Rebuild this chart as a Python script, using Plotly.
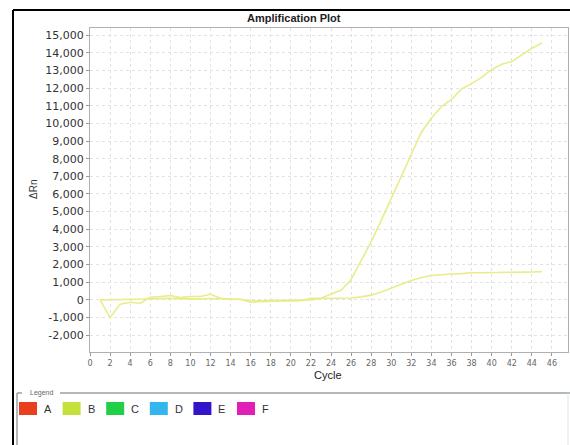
import plotly.graph_objects as go

cycles = list(range(1, 46))
curve_high = [0, -1000, -250, -130, -190, 150, 190, 245, 130, 190,
              190, 320, 95, 40, 40, -130, -95, -55, -55, -60,
              -40, 95, 95, 340, 550, 1150, 2200, 3300, 4500, 5800,
              7000, 8250, 9500, 10300, 10950, 11350, 11950, 12250, 12600, 13050,
              13350, 13500, 13900, 14250, 14550]
curve_low = [0, 0, 20, 30, 40, 60, 80, 90, 60, 50,
             60, 80, 50, 30, 20, -60, -50, -40, -50, -40,
             -20, 0, 80, 80, 90, 110, 170, 270, 450, 650,
             880, 1100, 1270, 1380, 1440, 1470, 1490, 1540, 1540, 1540,
             1540, 1550, 1560, 1580, 1600]

legend_names = ["A", "B", "C", "D", "E", "F"]
legend_colors = ["#e8401e", "#c4e03a", "#22d048", "#33b6ee", "#3414c8", "#e21eb6"]

y_ticks = list(range(-2000, 15001, 1000))
y_tick_text = [f"{v:,}" for v in y_ticks]
x_ticks = list(range(0, 47, 2))

line_color = "#e9ec8a"

fig = go.Figure()
fig.add_trace(go.Scatter(x=cycles, y=curve_high, mode="lines",
                         line=dict(color=line_color, width=1.6), showlegend=False))
fig.add_trace(go.Scatter(x=cycles, y=curve_low, mode="lines",
                         line=dict(color=line_color, width=1.6), showlegend=False))

W, H = 570, 445
L, R, T, B = 90, 2, 28, 93
pw, ph = W - L - R, H - T - B

def px(xp):
    return (xp - L) / pw

def py(yp):
    return (H - B - yp) / ph

shapes = []
# outer black frame
shapes.append(dict(type="line", xref="paper", yref="paper", x0=px(13), x1=px(13), y0=py(10), y1=py(445),
                   line=dict(color="black", width=2)))
shapes.append(dict(type="line", xref="paper", yref="paper", x0=px(13), x1=px(570), y0=py(10), y1=py(10),
                   line=dict(color="black", width=2)))
# legend box
shapes.append(dict(type="line", xref="paper", yref="paper", x0=px(17), x1=px(22), y0=py(393), y1=py(393),
                   line=dict(color="#9aa0a6", width=1.5)))
shapes.append(dict(type="line", xref="paper", yref="paper", x0=px(60), x1=px(570), y0=py(393), y1=py(393),
                   line=dict(color="#9aa0a6", width=1.5)))
shapes.append(dict(type="line", xref="paper", yref="paper", x0=px(17), x1=px(17), y0=py(393), y1=py(445),
                   line=dict(color="#9aa0a6", width=1.5)))
shapes.append(dict(type="line", xref="paper", yref="paper", x0=px(568), x1=px(568), y0=py(393), y1=py(445),
                   line=dict(color="#dfe3e6", width=1)))

annotations = []
annotations.append(dict(text="Legend", xref="paper", yref="paper", x=px(41), y=py(393),
                        showarrow=False, font=dict(size=7, color="#666", family="Liberation Sans"),
                        xanchor="center", yanchor="middle"))
for i, (nm, col) in enumerate(zip(legend_names, legend_colors)):
    x0 = 19 + i * 43.6
    shapes.append(dict(type="rect", xref="paper", yref="paper", x0=px(x0), x1=px(x0 + 18),
                       y0=py(415), y1=py(402), fillcolor=col, line=dict(width=0)))
    annotations.append(dict(text=nm, xref="paper", yref="paper", x=px(x0 + 23), y=py(409),
                            showarrow=False, font=dict(size=11, color="#333", family="Liberation Sans"),
                            xanchor="left", yanchor="middle"))

annotations.append(dict(text="ΔRn", xref="paper", yref="paper", x=px(33), y=py(190), textangle=-90,
                        showarrow=False, font=dict(size=10, color="#333", family="Liberation Sans"),
                        xanchor="center", yanchor="middle"))
annotations.append(dict(text="Cycle", xref="paper", yref="paper", x=px(328), y=py(375),
                        showarrow=False, font=dict(size=11, color="#222", family="Liberation Sans"),
                        xanchor="center", yanchor="middle"))
annotations.append(dict(text="<b>Amplification Plot</b>", xref="paper", yref="paper", x=px(294), y=py(18),
                        showarrow=False, font=dict(size=11, color="#222", family="Liberation Sans"),
                        xanchor="center", yanchor="middle"))

fig.update_layout(
    width=W, height=H,
    margin=dict(l=L, r=R, t=T, b=B),
    paper_bgcolor="white", plot_bgcolor="white",
    shapes=shapes, annotations=annotations,
    showlegend=False,
)
fig.update_xaxes(range=[0, 47.6], tickvals=x_ticks, ticks="outside", ticklen=3, tickcolor="#999",
                 tickfont=dict(size=8, color="#666", family="DejaVu Sans"),
                 showgrid=True, gridcolor="#e2e2e2", griddash="dot", gridwidth=1,
                 showline=True, linecolor="#b0b0b0", mirror=True, zeroline=False)
fig.update_yaxes(range=[-2950, 15400], tickvals=y_ticks, ticktext=y_tick_text, ticks="outside",
                 ticklen=3, tickcolor="#999",
                 tickfont=dict(size=11, color="#333", family="DejaVu Sans"),
                 showgrid=True, gridcolor="#e2e2e2", griddash="dot", gridwidth=1,
                 showline=True, linecolor="#b0b0b0", mirror=True, zeroline=False)

fig.write_html("out.html")
